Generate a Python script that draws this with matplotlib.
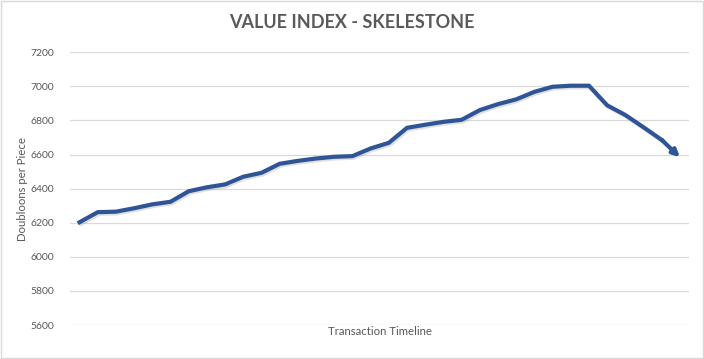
import matplotlib
matplotlib.use('Agg')
import matplotlib.pyplot as plt
import matplotlib.patheffects as pe
from matplotlib.patches import Rectangle

# valores
valores = [6203, 6262, 6265, 6285, 6308, 6323, 6385, 6408, 6425, 6470,
           6493, 6546, 6563, 6577, 6587, 6591, 6636, 6669, 6757, 6775,
           6792, 6804, 6861, 6896, 6924, 6968, 6998, 7004, 7004, 6889,
           6832, 6760, 6686, 6584]
yticks = [5600, 5800, 6000, 6200, 6400, 6600, 6800, 7000, 7200]
titulo = 'VALUE INDEX - SKELESTONE'
etiqueta_x = 'Transaction Timeline'
etiqueta_y = 'Doubloons per Piece'

plt.rcParams['font.family'] = ['Lato', 'DejaVu Sans']
gris = '#595959'
azul = '#2F5597'

fig = plt.figure(figsize=(7.04, 3.59), dpi=100)
ax = fig.add_axes([0.1001, 0.0947, 0.8786, 0.7596])

x = list(range(len(valores)))
sombra = [pe.SimpleLineShadow(offset=(1, -1.2), shadow_color='#999999', alpha=0.3),
          pe.Normal()]
ax.plot(x[:-1], valores[:-1], color=azul, lw=3, solid_joinstyle='miter',
        path_effects=sombra, zorder=3)
# flecha al final de la linea
ax.annotate('', xy=(x[-1], valores[-1]), xytext=(x[-2], valores[-2]),
            arrowprops=dict(arrowstyle='-|>', color=azul, lw=3, mutation_scale=10,
                            shrinkA=0, shrinkB=0),
            zorder=3)

ax.set_xlim(-0.5, len(valores) - 0.5)
ax.set_ylim(5600, 7200)
ax.set_yticks(yticks)
ax.set_xticks([])
ax.grid(axis='y', color='#D9D9D9', lw=0.9)
ax.set_axisbelow(True)
for s in ax.spines.values():
    s.set_visible(False)
ax.tick_params(axis='y', length=0, pad=12, labelsize=7.5, labelcolor=gris)

ax.set_xlabel(etiqueta_x, fontsize=8.2, color=gris, labelpad=1)
ax.set_ylabel(etiqueta_y, fontsize=8.2, color=gris)
ax.yaxis.set_label_coords(-0.068, 0.5)
fig.text(0.5, 1 - 23 / 359, titulo, ha='center', va='center', fontsize=13,
         fontweight='bold', color=gris)

# borde del grafico
fig.patches.append(Rectangle((0.001, 0.002), 0.997, 0.995, transform=fig.transFigure,
                             fill=False, edgecolor='#D9D9D9', lw=1))

fig.savefig('out.png', dpi=100)
